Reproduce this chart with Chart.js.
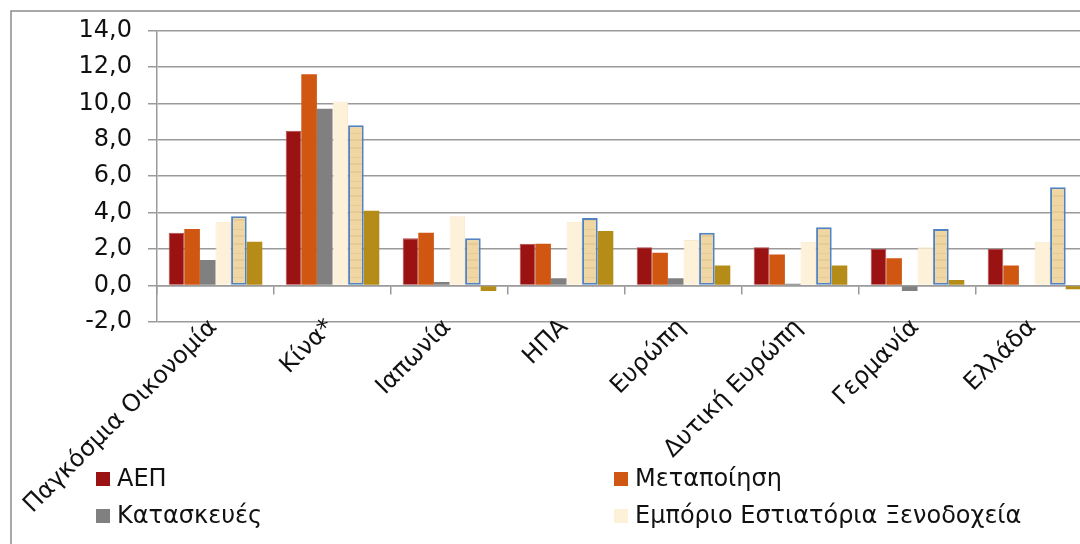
<!DOCTYPE html>
<html>
<head>
<meta charset="utf-8">
<script src="https://cdn.jsdelivr.net/npm/chart.js@4.4.1/dist/chart.umd.min.js"></script>
<style>
    html, body { margin: 0; padding: 0; background: #fff; overflow: hidden; }
    #wrap { position: relative; width: 1100px; height: 600px; }
</style>
</head>
<body>
<div id="wrap"><canvas id="growthChart" width="1100" height="600"></canvas></div>
<script>
// Data
const categories = ['Παγκόσμια Οικονομία', 'Κίνα*', 'Ιαπωνία', 'ΗΠΑ', 'Ευρώπη', 'Δυτική Ευρώπη', 'Γερμανία', 'Ελλάδα'];
const seriesNames = ['ΑΕΠ', 'Μεταποίηση', 'Κατασκευές', 'Εμπόριο Εστιατόρια Ξενοδοχεία', 'Μεταφορές Επικοινωνίες', 'Χρηματοπιστωτικές Υπηρεσίες'];
const gdp = [2.9, 8.5, 2.6, 2.3, 2.1, 2.1, 2.0, 2.0];
const manufacturing = [3.1, 11.6, 2.9, 2.3, 1.8, 1.7, 1.5, 1.1];
const construction = [1.4, 9.7, 0.2, 0.4, 0.4, 0.1, -0.3, 0.0];
const trade = [3.5, 10.1, 3.8, 3.5, 2.5, 2.4, 2.1, 2.4];
const transport = [3.8, 8.8, 2.6, 3.7, 2.9, 3.2, 3.1, 5.4];
const finance = [2.4, 4.1, -0.3, 3.0, 1.1, 1.1, 0.3, -0.2];
const yTicks = [-2, 0, 2, 4, 6, 8, 10, 12, 14];

const FONT = 'DejaVu Sans';
const GRID = '#9a9a9a';

// textured fill for the 5th series
function makeTexture() {
    const c = document.createElement('canvas');
    c.width = 4; c.height = 24;
    const g = c.getContext('2d');
    g.fillStyle = '#efd6a3';
    g.fillRect(0, 0, 4, 24);
    g.fillStyle = 'rgba(205,165,95,0.22)';
    g.fillRect(0, 3, 4, 2);
    g.fillRect(0, 13, 4, 1);
    g.fillRect(0, 19, 4, 2);
    return g.createPattern(c, 'repeat');
}
const texture = makeTexture();

const fills = ['#9b1212', '#d05712', '#808080', '#fdf1d9', texture, '#b58c17'];
const swatches = ['#9b1212', '#d05712', '#808080', '#fdf1d9', '#efd6a3', '#b58c17'];
const values = [gdp, manufacturing, construction, trade, transport, finance];

const datasets = values.map((v, i) => ({
    label: seriesNames[i],
    data: v,
    backgroundColor: fills[i],
    borderColor: i === 4 ? '#5383bf' : (i === 3 ? '#f8e9cc' : (i === 0 ? '#b24a4a' : fills[i])),
    borderWidth: i === 4 ? 2 : (i === 3 || i === 0 ? 1 : 0),
    borderSkipped: i === 4 ? false : 'start',
    barPercentage: 1,
    categoryPercentage: 0.8
}));

// frame + two-column legend drawn on the canvas
const legendRows = [479, 516, 562];
const frameLegend = {
    id: 'frameLegend',
    afterDraw(chart) {
        const ctx = chart.ctx;
        ctx.save();
        ctx.strokeStyle = '#8c8c8c';
        ctx.lineWidth = 1.5;
        ctx.strokeRect(11, 11, 1200, 1200);
        ctx.font = '24px "' + FONT + '"';
        ctx.textBaseline = 'middle';
        const colX = [96, 614];
        chart.data.datasets.forEach((ds, i) => {
            const x = colX[i % 2];
            const y = legendRows[Math.floor(i / 2)];
            ctx.fillStyle = swatches[i];
            ctx.fillRect(x, y - 7, 14, 14);
            ctx.fillStyle = '#111';
            ctx.fillText(ds.label, x + 21, y + 1);
        });
        ctx.restore();
    }
};

new Chart(document.getElementById('growthChart'), {
    type: 'bar',
    data: { labels: categories, datasets },
    plugins: [frameLegend],
    options: {
        responsive: false,
        animation: false,
        devicePixelRatio: 1,
        layout: { autoPadding: false, padding: { left: 0, top: 28, right: 7, bottom: 278 } },
        plugins: { legend: { display: false }, tooltip: { enabled: false } },
        scales: {
            x: {
                position: { y: 0 },
                offset: true,
                grid: { display: true, offset: true, drawOnChartArea: false, drawTicks: true, tickLength: 8, color: GRID, lineWidth: 1.5 },
                border: { display: true, color: GRID, width: 1.5 },
                ticks: {
                    minRotation: 45, maxRotation: 45, padding: 20, labelOffset: -2, autoSkip: false,
                    color: '#111', font: { family: FONT, size: 24 }
                }
            },
            y: {
                min: -2, max: 14,
                afterFit: s => { s.width = 157; },
                afterBuildTicks: s => { s.ticks = yTicks.map(v => ({ value: v })); },
                grid: { color: GRID, lineWidth: 1.5, tickLength: 9 },
                border: { display: true, color: GRID, width: 1.5 },
                ticks: {
                    padding: 16, color: '#111', font: { family: FONT, size: 24 },
                    callback: v => v.toFixed(1).replace('.', ',')
                }
            }
        }
    }
});
</script>
</body>
</html>
